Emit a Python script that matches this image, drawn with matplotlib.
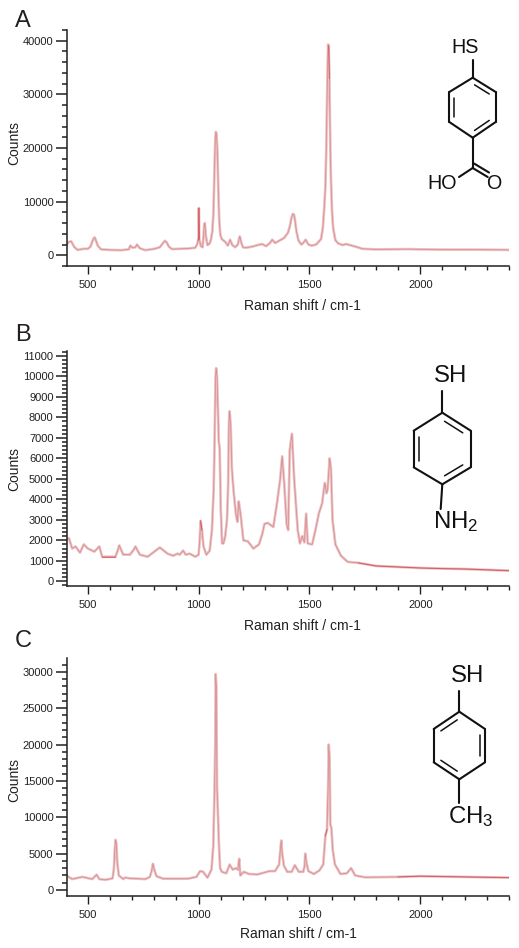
import matplotlib
matplotlib.use("Agg")
import matplotlib.pyplot as plt
from matplotlib.ticker import MultipleLocator

plt.rcParams['font.family'] = ['Liberation Sans', 'DejaVu Sans']
plt.rcParams['mathtext.default'] = 'regular'

W, H = 519, 948
INK = "#231f20"

# spectra
shift_a = [400, 408, 415, 425, 433, 440, 455, 480, 500, 512, 520, 527, 532, 538, 545, 560, 600, 650, 685, 692, 702,
           715, 722, 735, 760, 800, 825, 838, 848, 856, 866, 880, 950, 985, 993, 998, 1000, 1001, 1003, 1010, 1018,
           1022, 1025, 1028, 1033, 1040, 1050, 1056, 1062, 1067, 1071, 1075, 1078, 1081, 1085, 1089, 1093, 1098,
           1105, 1120, 1132, 1142, 1152, 1165, 1177, 1182, 1186, 1192, 1200, 1212, 1240, 1285, 1305, 1322, 1332,
           1345, 1385, 1403, 1412, 1419, 1425, 1430, 1435, 1441, 1450, 1463, 1472, 1483, 1495, 1510, 1530, 1552,
           1560, 1567, 1572, 1576, 1580, 1584, 1587, 1590, 1594, 1597, 1602, 1607, 1617, 1630, 1650, 1665, 1700,
           1740, 1800, 1940, 2100, 2250, 2400]
counts_a = [1500, 2200, 2500, 2600, 2000, 1500, 1000, 1200, 1200, 1600, 2500, 3200, 3300, 2600, 1800, 1100, 1000,
            950, 1100, 1800, 1400, 1500, 2000, 1300, 950, 1200, 1500, 2200, 2700, 2400, 1600, 1150, 1250, 1400,
            2000, 2800, 3300, 8800, 3000, 1700, 1500, 3500, 5500, 6000, 3500, 1900, 2200, 3000, 4500, 8000, 15000,
            21500, 23000, 22500, 19000, 12000, 6500, 3800, 3000, 2500, 1800, 2900, 1900, 1500, 2000, 3000, 3500,
            2400, 1500, 1400, 1600, 2100, 1700, 2300, 2900, 2300, 3200, 4200, 5500, 7000, 7700, 7600, 6500, 4500,
            2800, 2000, 2300, 2900, 2000, 1800, 2000, 3000, 5000, 9000, 13000, 20000, 31000, 39300, 39000, 33000,
            20000, 14000, 8000, 5000, 2800, 2200, 1900, 2100, 1700, 1200, 1100, 1150, 1050, 1050, 1000]

shift_b = [400, 415, 430, 445, 465, 482, 500, 530, 552, 565, 625, 635, 642, 650, 660, 690, 708, 715, 722, 735, 770,
           825, 860, 885, 905, 915, 930, 942, 960, 985, 1000, 1005, 1009, 1015, 1022, 1035, 1050, 1060, 1068, 1072,
           1076, 1079, 1083, 1087, 1091, 1095, 1100, 1106, 1112, 1120, 1128, 1133, 1137, 1140, 1145, 1150, 1157,
           1168, 1175, 1181, 1189, 1202, 1222, 1247, 1272, 1287, 1297, 1312, 1337, 1352, 1367, 1377, 1386, 1397,
           1404, 1411, 1421, 1431, 1447, 1457, 1467, 1477, 1485, 1492, 1512, 1527, 1542, 1557, 1569, 1577, 1582,
           1591, 1597, 1604, 1617, 1642, 1672, 1720, 1800, 1900, 2000, 2100, 2200, 2400]
counts_b = [2100, 2100, 1600, 1700, 1400, 1800, 1600, 1450, 1700, 1200, 1200, 1500, 1750, 1550, 1300, 1300, 1550,
            1700, 1550, 1300, 1200, 1650, 1350, 1250, 1350, 1300, 1500, 1300, 1350, 1200, 1300, 2000, 2950, 2500,
            1700, 1300, 1500, 2500, 4500, 6800, 9800, 10400, 10000, 8500, 6800, 6500, 3500, 1850, 1850, 2200, 3000,
            4600, 7800, 8300, 7500, 5500, 4500, 3300, 2900, 3900, 3300, 2000, 1950, 1600, 1800, 2300, 2800, 2850,
            2650, 3700, 4900, 6100, 4800, 2800, 2500, 6400, 7200, 5000, 2500, 1850, 2200, 1900, 3300, 1850, 1800,
            2500, 3300, 3800, 4800, 4300, 4500, 6000, 5500, 3000, 1800, 1250, 950, 900, 750, 700, 650, 620, 600, 520]

shift_c = [400, 408, 430, 475, 520, 540, 552, 580, 612, 618, 622, 625, 629, 633, 640, 660, 668, 690, 760, 780, 788,
           794, 800, 810, 840, 950, 990, 1007, 1020, 1040, 1058, 1066, 1072, 1075, 1077, 1080, 1083, 1087, 1092,
           1097, 1105, 1125, 1140, 1154, 1167, 1177, 1183, 1188, 1204, 1227, 1267, 1320, 1345, 1363, 1370, 1373,
           1377, 1385, 1400, 1420, 1434, 1452, 1472, 1478, 1481, 1486, 1495, 1520, 1545, 1562, 1572, 1579, 1584,
           1587, 1591, 1594, 1599, 1605, 1615, 1640, 1668, 1688, 1706, 1750, 1900, 2000, 2200, 2400]
counts_c = [2400, 1900, 1500, 1800, 1500, 2100, 1500, 1400, 1600, 3000, 5500, 6900, 6400, 3800, 2000, 1500, 1700,
            1600, 1500, 1800, 2600, 3600, 2800, 1900, 1550, 1550, 1800, 2600, 2500, 1700, 2800, 6000, 14000, 20000,
            29700, 28000, 14000, 10600, 6000, 3000, 2500, 2300, 3500, 2800, 3000, 2800, 4300, 2000, 2500, 2200,
            2150, 2600, 2600, 3500, 6000, 6800, 5000, 3300, 2500, 2500, 3400, 2500, 2500, 3300, 5000, 3800, 2600,
            2200, 2700, 3500, 7500, 8300, 14000, 20000, 18000, 9000, 8500, 5500, 3500, 2200, 2300, 3000, 2000, 1750,
            1800, 1900, 1800, 1700]

# stretches where the trace shows up stronger red in the picture
red_a = [(998, 1003), (1587, 1590)]
red_b = [(565, 625), (1009, 1015), (1720, 2400)]
red_c = [(1572, 1579), (1900, 2400)]

fig = plt.figure(figsize=(W / 100, H / 100), dpi=100)

# whole-figure layer in pixel coordinates, used for the molecule sketches and label placement
sketch = fig.add_axes([0, 0, 1, 1], zorder=5)
sketch.set_xlim(0, W)
sketch.set_ylim(H, 0)
sketch.axis('off')


def plot_panel(x, y, red, top, bottom, y_low, y_high, major, minor, label_y, xlabel_x, xlabel_y):
    ax = fig.add_axes([66.7 / W, 1 - bottom / H, 442.3 / W, (bottom - top) / H])
    ax.plot(x, y, color="#e9c0c1", lw=1.9, solid_joinstyle='round')
    ax.plot(x, y, color="#cf5a63", lw=0.45, alpha=0.6)
    for lo, hi in red:
        xs = [v for v in x if lo <= v <= hi]
        ys = [v for u, v in zip(x, y) if lo <= u <= hi]
        ax.plot(xs, ys, color="#d0343f", lw=0.8, alpha=0.55)
    ax.set_xlim(405, 2400)
    ax.set_ylim(y_low, y_high)
    for side in ['top', 'right']:
        ax.spines[side].set_visible(False)
    for side in ['left', 'bottom']:
        ax.spines[side].set_linewidth(1.1)
        ax.spines[side].set_color(INK)
    ax.xaxis.set_major_locator(MultipleLocator(500))
    ax.xaxis.set_minor_locator(MultipleLocator(100))
    ax.yaxis.set_major_locator(MultipleLocator(major))
    ax.yaxis.set_minor_locator(MultipleLocator(minor))
    ax.tick_params(axis='y', which='major', length=8, width=1.1, pad=1.5, labelsize=8, color=INK, labelcolor=INK)
    ax.tick_params(axis='y', which='minor', length=3.6, width=1.1, color=INK)
    ax.tick_params(axis='x', which='major', length=6, width=1.0, pad=4, labelsize=8, color=INK, labelcolor=INK)
    ax.tick_params(axis='x', which='minor', length=2.6, width=1.0, color=INK)
    ax.set_xlabel("Raman shift / cm-1", fontsize=10, color=INK)
    ax.set_ylabel("Counts", fontsize=10, color=INK)
    ax.xaxis.set_label_coords(xlabel_x, xlabel_y, transform=sketch.transData)
    ax.yaxis.set_label_coords(14, label_y, transform=sketch.transData)
    ax.xaxis.label.set_verticalalignment('center')
    ax.yaxis.label.set_verticalalignment('center')
    return ax


def bond(x1, y1, x2, y2, lw=1.5):
    sketch.plot([x1, x2], [y1, y2], color="#111111", lw=lw, solid_capstyle='round')


def ring(cx, top, bottom, left, right, upper, lower, doubles):
    pts = [(cx, top), (right, upper), (right, lower), (cx, bottom), (left, lower), (left, upper)]
    for i in range(6):
        a, b = pts[i], pts[(i + 1) % 6]
        bond(a[0], a[1], b[0], b[1])
        if i in doubles:
            # shorter inner line of the double bond
            cy = (top + bottom) / 2
            ia = (a[0] + (cx - a[0]) * 0.2, a[1] + (cy - a[1]) * 0.2)
            ib = (b[0] + (cx - b[0]) * 0.2, b[1] + (cy - b[1]) * 0.2)
            sa = (ia[0] + (ib[0] - ia[0]) * 0.1, ia[1] + (ib[1] - ia[1]) * 0.1)
            sb = (ib[0] - (ib[0] - ia[0]) * 0.1, ib[1] - (ib[1] - ia[1]) * 0.1)
            bond(sa[0], sa[1], sb[0], sb[1], lw=1.1)


def atom(x, y, s, size, ha='center'):
    sketch.text(x, y, s, fontsize=size, ha=ha, va='center', color="#111111")


plot_panel(shift_a, counts_a, red_a, 30, 266, -2000, 42000, 10000, 2000, 142.7, 302.5, 305.7)
plot_panel(shift_b, counts_b, red_b, 351, 586, -229, 11240, 1000, 200, 469, 302.5, 626)
plot_panel(shift_c, counts_c, red_c, 658, 896, -825, 31900, 5000, 1000, 780, 298, 934.3)

sketch.text(15, 26.7, "A", fontsize=17, color=INK, va='baseline')
sketch.text(15, 340.7, "B", fontsize=17, color=INK, va='baseline')
sketch.text(15, 647, "C", fontsize=17, color=INK, va='baseline')

# A: 4-mercaptobenzoic acid
ring(472.7, 77.7, 137.7, 449.3, 495.7, 92, 122, [0, 2, 4])
bond(472.7, 77.7, 472.7, 60)
bond(472.7, 137.7, 472.7, 168)
bond(472.7, 168, 459, 177)
bond(472.7, 168, 487.7, 177)
bond(474, 163.5, 489, 172.5)
atom(465, 47.5, "HS", 14.2)
atom(442, 183, "HO", 14.2)
atom(494, 183, "O", 14.2)

# B: 4-aminothiophenol
ring(442.3, 412.7, 484.3, 413.7, 470.7, 430.7, 467.3, [0, 2, 4])
bond(442.3, 412.7, 442.3, 390.7)
bond(442.3, 484.3, 440.7, 509)
atom(450.7, 375.5, "SH", 17.3)
atom(433, 522, "NH$_2$", 17.3, ha='left')

# C: 4-methylbenzenethiol
ring(459.3, 711.7, 779.3, 433.7, 485, 729, 762.3, [1, 3, 5])
bond(459.3, 711.7, 459.3, 691)
bond(459.3, 779.3, 459.3, 802.7)
atom(467.7, 676.5, "SH", 17.3)
atom(448, 816.7, "CH$_3$", 17.3, ha='left')

fig.savefig("out.png", dpi=100)
